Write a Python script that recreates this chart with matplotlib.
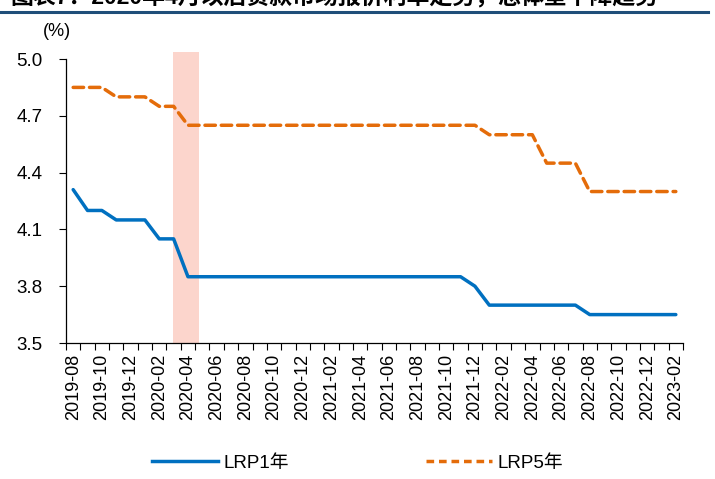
import matplotlib
matplotlib.use("Agg")
import matplotlib.pyplot as plt
from matplotlib.lines import Line2D

plt.rcParams['font.family'] = ['Liberation Sans', 'Noto Sans CJK SC', 'DejaVu Sans']

months = ['2019-08', '2019-09', '2019-10', '2019-11', '2019-12',
          '2020-01', '2020-02', '2020-03', '2020-04', '2020-05', '2020-06', '2020-07',
          '2020-08', '2020-09', '2020-10', '2020-11', '2020-12',
          '2021-01', '2021-02', '2021-03', '2021-04', '2021-05', '2021-06', '2021-07',
          '2021-08', '2021-09', '2021-10', '2021-11', '2021-12',
          '2022-01', '2022-02', '2022-03', '2022-04', '2022-05', '2022-06', '2022-07',
          '2022-08', '2022-09', '2022-10', '2022-11', '2022-12', '2023-01', '2023-02']

lpr1 = [4.31, 4.20, 4.20, 4.15, 4.15, 4.15, 4.05, 4.05,
        3.85, 3.85, 3.85, 3.85, 3.85, 3.85, 3.85, 3.85, 3.85,
        3.85, 3.85, 3.85, 3.85, 3.85, 3.85, 3.85, 3.85, 3.85, 3.85, 3.85,
        3.80,
        3.70, 3.70, 3.70, 3.70, 3.70, 3.70, 3.70,
        3.65, 3.65, 3.65, 3.65, 3.65, 3.65, 3.65]

lpr5 = [4.85, 4.85, 4.85, 4.80, 4.80, 4.80, 4.75, 4.75,
        4.65, 4.65, 4.65, 4.65, 4.65, 4.65, 4.65, 4.65, 4.65,
        4.65, 4.65, 4.65, 4.65, 4.65, 4.65, 4.65, 4.65, 4.65, 4.65, 4.65,
        4.65,
        4.60, 4.60, 4.60, 4.60, 4.45, 4.45, 4.45,
        4.30, 4.30, 4.30, 4.30, 4.30, 4.30, 4.30]

series_names = ['LRP1年', 'LRP5年']
yticks = [3.5, 3.8, 4.1, 4.4, 4.7, 5.0]
shade_start, shade_end = '2020-03', '2020-04'

blue = '#0070C0'
orange = '#E46C0A'

fig = plt.figure(figsize=(7.15, 4.79), dpi=100)
ax = fig.add_axes([66/715, 1-343/479, (683-66)/715, (343-59)/479])

x = list(range(len(months)))
i0 = months.index(shade_start)
i1 = months.index(shade_end)
ax.axvspan(i0 - 0.05, i1 + 0.75, ymin=0, ymax=1.025, color='#FCD5CC', lw=0, clip_on=False, zorder=0)

ax.plot(x, lpr1, color=blue, lw=2.5, solid_capstyle='round', zorder=3)
ax.plot(x, lpr5, color=orange, lw=2.5, dashes=(3.0, 1.7), dash_capstyle='round', zorder=3)

ax.set_xlim(-0.5, len(months) - 0.5)
ax.set_ylim(3.5, 5.0)
ax.set_yticks(yticks)
ax.set_yticklabels([f'{v:.1f}' for v in yticks], fontsize=13.5)

# month boundaries as tick marks, labels every 2 months
ax.set_xticks([i - 0.5 for i in range(len(months) + 1)])
ax.set_xticklabels([])
ax.set_xticks(x[::2], minor=True)
ax.set_xticklabels(months[::2], minor=True, rotation=90, fontsize=13)
ax.tick_params(axis='x', which='major', length=5, width=0.8, direction='out')
ax.tick_params(axis='x', which='minor', length=0, pad=8)
ax.tick_params(axis='y', length=5, width=0.8, direction='out', pad=12)

for s in ['top', 'right']:
    ax.spines[s].set_visible(False)
for s in ['left', 'bottom']:
    ax.spines[s].set_linewidth(0.9)

fig.text(57/715, 1-32/479, '(%)', fontsize=13, ha='center', va='center')

# header rule and clipped title
fig.add_artist(Line2D([0, 708/715], [1-11.5/479, 1-11.5/479], color='#1F4E79', lw=2.2))
fig.text(10/715, 1-8/479, '图表7：2020年4月以后贷款市场报价利率走势，总体呈下降趋势',
         fontsize=16.5, ha='left', va='bottom', fontweight='bold')

handles = [Line2D([], [], color=blue, lw=2.5),
           Line2D([], [], color=orange, lw=2.5, dashes=(2.2, 1.4))]
fig.legend(handles, series_names, loc='center', bbox_to_anchor=(0.5, 1-463/479),
           ncol=2, frameon=False, fontsize=13.5, handlelength=3.5, columnspacing=7.3,
           handletextpad=0.3)

fig.savefig('out.png', dpi=100)
